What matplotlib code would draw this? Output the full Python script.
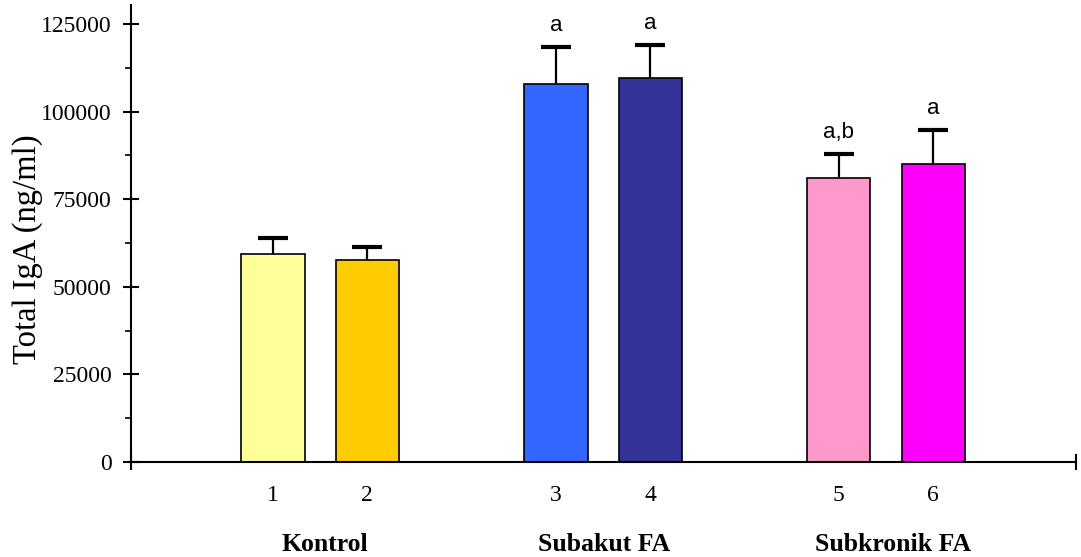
import matplotlib
matplotlib.use("Agg")
import matplotlib.pyplot as plt
from matplotlib.ticker import MultipleLocator

# data
positions = [1, 2, 4, 5, 7, 8]
bar_labels = ["1", "2", "3", "4", "5", "6"]
means = [59300, 57600, 107900, 109600, 81000, 85000]
sem = [4600, 3700, 10500, 9400, 6900, 9700]
colors = ["#FFFF99", "#FFCC00", "#3366FF", "#333399", "#FF99CC", "#FF00FF"]
sig_letters = ["", "", "a", "a", "a,b", "a"]
groups = ["Kontrol", "Subakut FA", "Subkronik FA"]
group_centers = [1.55, 4.51, 7.57]

SERIF = "Liberation Serif"
SANS = "Liberation Sans"

fig = plt.figure(figsize=(10.81, 5.57), dpi=100)
ax = fig.add_axes([0.1212, 0.1706, 0.8742, 0.8204])

ax.bar(positions, means, width=0.67, color=colors, edgecolor="black", linewidth=1.2, zorder=2)

eb = ax.errorbar(positions, means, yerr=[[0] * len(sem), sem], fmt="none",
                 ecolor="black", elinewidth=1.6, capsize=11, capthick=3, zorder=3)
caps = eb[1]
caps[0].set_visible(False)
caps[1].set_color("#333333")

for p, m, s, lab in zip(positions, means, sem, sig_letters):
    if lab:
        ax.text(p, m + s + 3200, lab, ha="center", va="bottom", fontsize=16, family=SANS)

ax.set_xlim(-0.506, 9.515)
ax.set_ylim(0, 130400)

ax.spines["top"].set_visible(False)
ax.spines["right"].set_visible(False)
ax.spines["left"].set_linewidth(1.5)
ax.spines["bottom"].set_linewidth(1.5)

ax.set_yticks([0, 25000, 50000, 75000, 100000, 125000])
ax.yaxis.set_minor_locator(MultipleLocator(12500))
ax.tick_params(axis="y", which="major", direction="inout", length=12, width=1.5,
               labelsize=17, pad=8)
ax.tick_params(axis="y", which="minor", direction="out", length=4, width=1.2)
for t in ax.get_yticklabels():
    t.set_family(SERIF)

ax.set_xticks([-0.506, 9.515])
ax.set_xticklabels(["", ""])
ax.tick_params(axis="x", direction="inout", length=12, width=1.5)

ax.set_ylabel("Total IgA (ng/ml)", fontsize=23.5, family=SERIF)
ax.yaxis.set_label_coords(-0.093, 0.466)

for p, lab in zip(positions, bar_labels):
    ax.annotate(lab, xy=(p, 0), xycoords=("data", "axes fraction"), xytext=(0, -24),
                textcoords="offset points", ha="center", va="center", fontsize=17, family=SERIF)
for c, g in zip(group_centers, groups):
    ax.annotate(g, xy=(c, 0), xycoords=("data", "axes fraction"), xytext=(0, -59.5),
                textcoords="offset points", ha="center", va="center", fontsize=18.5,
                family=SERIF, fontweight="bold")

plt.savefig("out.png", dpi=100)
